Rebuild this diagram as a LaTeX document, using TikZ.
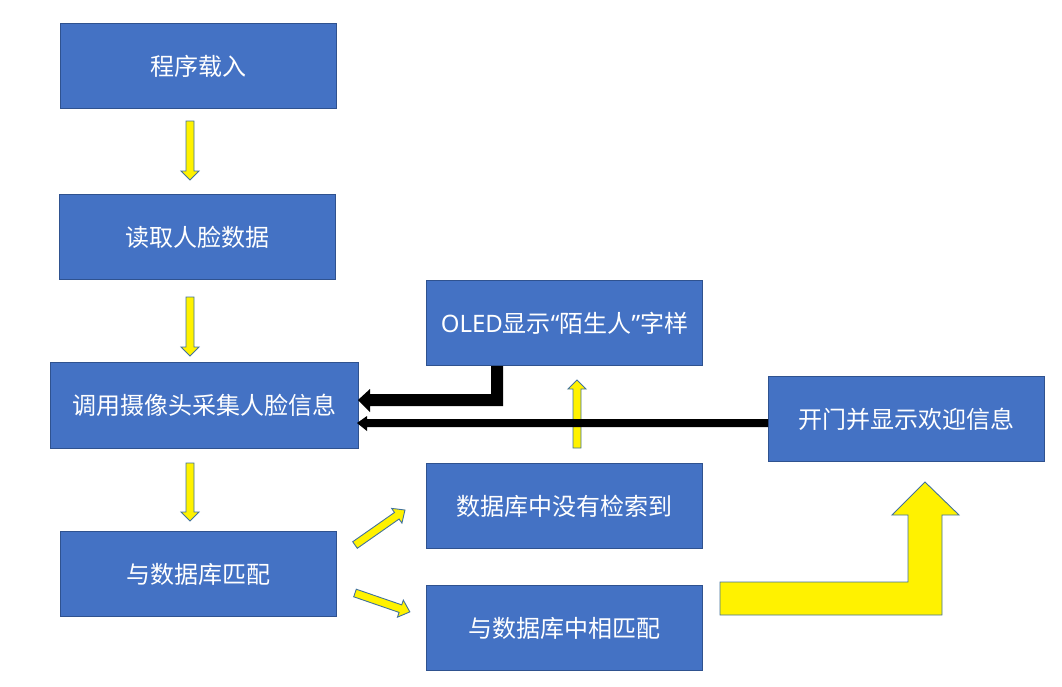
\documentclass[tikz,border=0pt]{standalone}
\usepackage{fontspec}
\newfontfamily\cjk{Noto Sans CJK SC}
\newfontfamily\lat{Noto Sans}
\definecolor{boxblue}{HTML}{4472C4}
\definecolor{boxedge}{HTML}{2F528F}
\definecolor{arredge}{HTML}{41719C}
\tikzset{
  fbox/.style={draw=boxedge, line width=1pt, fill=boxblue, text=white,
    font=\cjk\fontsize{24}{27}\selectfont, inner sep=0pt, anchor=north west},
  yarrow/.style={draw=arredge, line width=0.9pt, fill=yellow, line join=miter},
  karrow/.style={fill=black},
}
\newcommand\vdownarrow[3]{% x, y1, y2
  \draw[yarrow] (#1-4,#2) -- (#1+4,#2) -- (#1+4,#3-9) -- (#1+9,#3-9) -- (#1,#3) -- (#1-9,#3-9) -- (#1-4,#3-9) -- cycle;}
\begin{document}
\begin{tikzpicture}[x=1pt,y=-1pt]
\useasboundingbox (0,0) rectangle (1062,686);
\node[fbox, minimum width=276pt, minimum height=85pt] (b1) at (60,23) {程序载入};
\node[fbox, minimum width=276pt, minimum height=85pt] (b2) at (59,194) {读取人脸数据};
\node[fbox, minimum width=308pt, minimum height=86pt] (b3) at (50,362) {调用摄像头采集人脸信息};
\node[fbox, minimum width=276pt, minimum height=85pt] (b4) at (60,531) {与数据库匹配};
\node[fbox, minimum width=276pt, minimum height=85pt] (b5) at (426,280) {{\lat OLED}显示{\lat “}陌生人{\lat ”}字样};
\node[fbox, minimum width=276pt, minimum height=85pt] (b6) at (426,463) {数据库中没有检索到};
\node[fbox, minimum width=276pt, minimum height=85pt] (b7) at (426,585) {与数据库中相匹配};
\node[fbox, minimum width=276pt, minimum height=85pt] (b8) at (768,376) {开门并显示欢迎信息};
% vertical down arrows
\vdownarrow{190}{121}{180}
\vdownarrow{190}{297}{356}
\vdownarrow{190}{463}{521}
% up arrow
\draw[yarrow] (573,448) -- (581,448) -- (581,389) -- (586,389) -- (577,380) -- (568,389) -- (573,389) -- cycle;
% diagonal arrows
\begin{scope}[shift={(355,545)}, rotate=35]
\draw[yarrow] (0,-4) -- (51,-4) -- (51,-9) -- (61,0) -- (51,9) -- (51,4) -- (0,4) -- cycle;
\end{scope}
\begin{scope}[shift={(355,593)}, rotate=-19]
\draw[yarrow] (0,-4) -- (48,-4) -- (48,-9) -- (58,0) -- (48,9) -- (48,4) -- (0,4) -- cycle;
\end{scope}
% big bent arrow
\draw[yarrow] (720,582) -- (908,582) -- (908,515) -- (892,515) -- (925,482) -- (959,515) -- (942,515) -- (942,615) -- (720,615) -- cycle;
% black arrows
\fill[karrow] (491,366) -- (503,366) -- (503,406) -- (370,406) -- (370,412) -- (358,400) -- (370,389) -- (370,394) -- (491,394) -- cycle;
\fill[karrow] (768,419) -- (768,427) -- (367,427) -- (367,431) -- (357,423) -- (367,416) -- (367,419) -- cycle;
\end{tikzpicture}
\end{document}
